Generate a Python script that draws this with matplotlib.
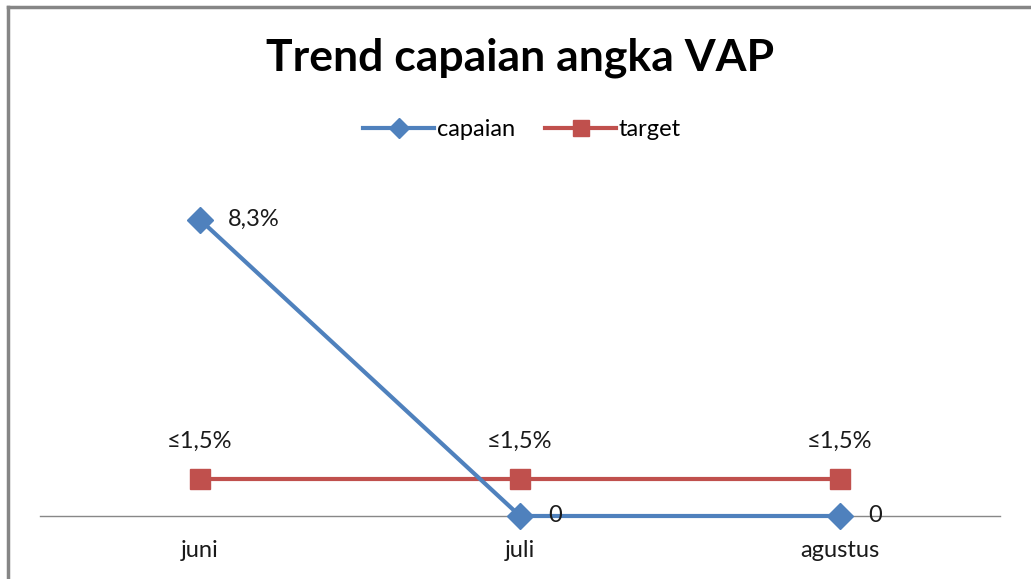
import matplotlib.pyplot as plt
from matplotlib.lines import Line2D

plt.rcParams['font.family'] = ['Lato', 'DejaVu Sans']

months = ['juni', 'juli', 'agustus']
capaian = [8.3, 0, 0]
capaian_labels = ['8,3%', '0', '0']
target = [1.04, 1.04, 1.04]
target_labels = ['\u22641,5%', '\u22641,5%', '\u22641,5%']

blue = '#4F81BD'
red = '#C0504D'
txt = '#1a1a1a'

W, H = 1031, 579
fig = plt.figure(figsize=(W / 100, H / 100), dpi=100)

# plot area in pixels: left 40, right 1000, zero line at y=516
ax = fig.add_axes([40 / W, (H - 516) / H, 960 / W, (516 - 159) / H])
x = list(range(len(months)))

ax.plot(x, target, color=red, lw=3, marker='s', ms=15, mec=red, label='target',
        zorder=3, clip_on=False)
ax.plot(x, capaian, color=blue, lw=3, marker='D', ms=13, mec=blue, label='capaian',
        zorder=4, clip_on=False)

for xi, v, t in zip(x, capaian, capaian_labels):
    ax.annotate(t, (xi, v), xytext=(20, 0), textcoords='offset points',
                ha='left', va='center', fontsize=17, color=txt, zorder=5)
for xi, v, t in zip(x, target, target_labels):
    ax.annotate(t, (xi, v), xytext=(0, 27), textcoords='offset points',
                ha='center', va='center', fontsize=17, color=txt)

ax.set_xlim(-0.5, 2.5)
ax.set_ylim(0, 10)
ax.set_xticks(x)
ax.set_xticklabels(months, fontsize=17, color=txt)
ax.tick_params(axis='x', length=0, pad=17)
ax.set_yticks([])
for s in ['left', 'right', 'top']:
    ax.spines[s].set_visible(False)
ax.spines['bottom'].set_color('#888888')
ax.spines['bottom'].set_linewidth(1)
ax.spines['bottom'].set_zorder(2)

handles, labels = ax.get_legend_handles_labels()
fig.legend(handles[::-1], labels[::-1], loc='center', bbox_to_anchor=(522 / W, (H - 130) / H),
           ncol=2, frameon=False, fontsize=17, handlelength=3.0, handletextpad=0.1,
           columnspacing=1.3, markerscale=0.75)

fig.text(520 / W, (H - 58) / H, 'Trend capaian angka VAP', ha='center', va='center',
         fontsize=32, fontweight='bold', color='black')

# chart border (left and top edges)
fig.add_artist(Line2D([8 / W, 8 / W], [0, (H - 7) / H], color='#868686', lw=2.5,
                      transform=fig.transFigure))
fig.add_artist(Line2D([8 / W, 1], [(H - 7) / H, (H - 7) / H], color='#868686', lw=2.5,
                      transform=fig.transFigure))

fig.savefig('out.png', dpi=100)
